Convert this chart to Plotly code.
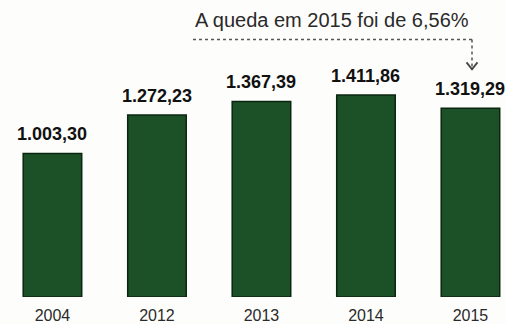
import plotly.graph_objects as go

years = ["2004", "2012", "2013", "2014", "2015"]
values = [1003.30, 1272.23, 1367.39, 1411.86, 1319.29]
labels = ["1.003,30", "1.272,23", "1.367,39", "1.411,86", "1.319,29"]
note = "A queda em 2015 foi de 6,56%"

W, H = 506, 324
PLOT_H = 300

fig = go.Figure()
fig.add_trace(go.Bar(
    x=list(range(len(years))), y=values,
    width=0.56,
    marker=dict(color="#1c5127", line=dict(color="#0b2610", width=1.5)),
    hoverinfo="skip",
))

for i, (v, lab) in enumerate(zip(values, labels)):
    fig.add_annotation(x=i, y=v, text="<b>" + lab + "</b>", showarrow=False,
                       yanchor="middle", yshift=19,
                       font=dict(family="Liberation Sans, Arial", size=18, color="#111111"))

# note text
fig.add_annotation(xref="paper", yref="paper", x=332 / W, y=(PLOT_H - 20) / PLOT_H,
                   text=note, showarrow=False, xanchor="center", yanchor="middle",
                   font=dict(family="Liberation Sans, Arial", size=20, color="#2a2a2a"))

def px(xp):
    return xp / W

def py(yp):
    return (PLOT_H - yp) / PLOT_H

line_style = dict(color="#555555", width=1.5, dash="dot")
fig.add_shape(type="line", xref="paper", yref="paper", x0=px(193), x1=px(472), y0=py(40), y1=py(40), line=line_style)
fig.add_shape(type="line", xref="paper", yref="paper", x0=px(472), x1=px(472), y0=py(40), y1=py(68), line=line_style)
fig.add_shape(type="path", xref="paper", yref="paper",
              path=f"M {px(466.5)},{py(63)} L {px(472)},{py(70)} L {px(477.5)},{py(63)}",
              line=dict(color="#444444", width=1.8))

fig.update_layout(
    width=W, height=H,
    margin=dict(l=0, r=0, t=0, b=24),
    paper_bgcolor="#fdfdfb", plot_bgcolor="#fdfdfb",
    showlegend=False,
    xaxis=dict(range=[-0.502, 4.34], tickmode="array", tickvals=list(range(len(years))), ticktext=years,
               showgrid=False, zeroline=False, showline=False, ticks="",
               ticklabelstandoff=7,
               tickfont=dict(family="Liberation Sans Narrow, Arial Narrow, Liberation Sans", size=16, color="#2a2a2a")),
    yaxis=dict(range=[0, 2076], visible=False, showgrid=False, zeroline=False),
)

fig.write_html("out.html")
